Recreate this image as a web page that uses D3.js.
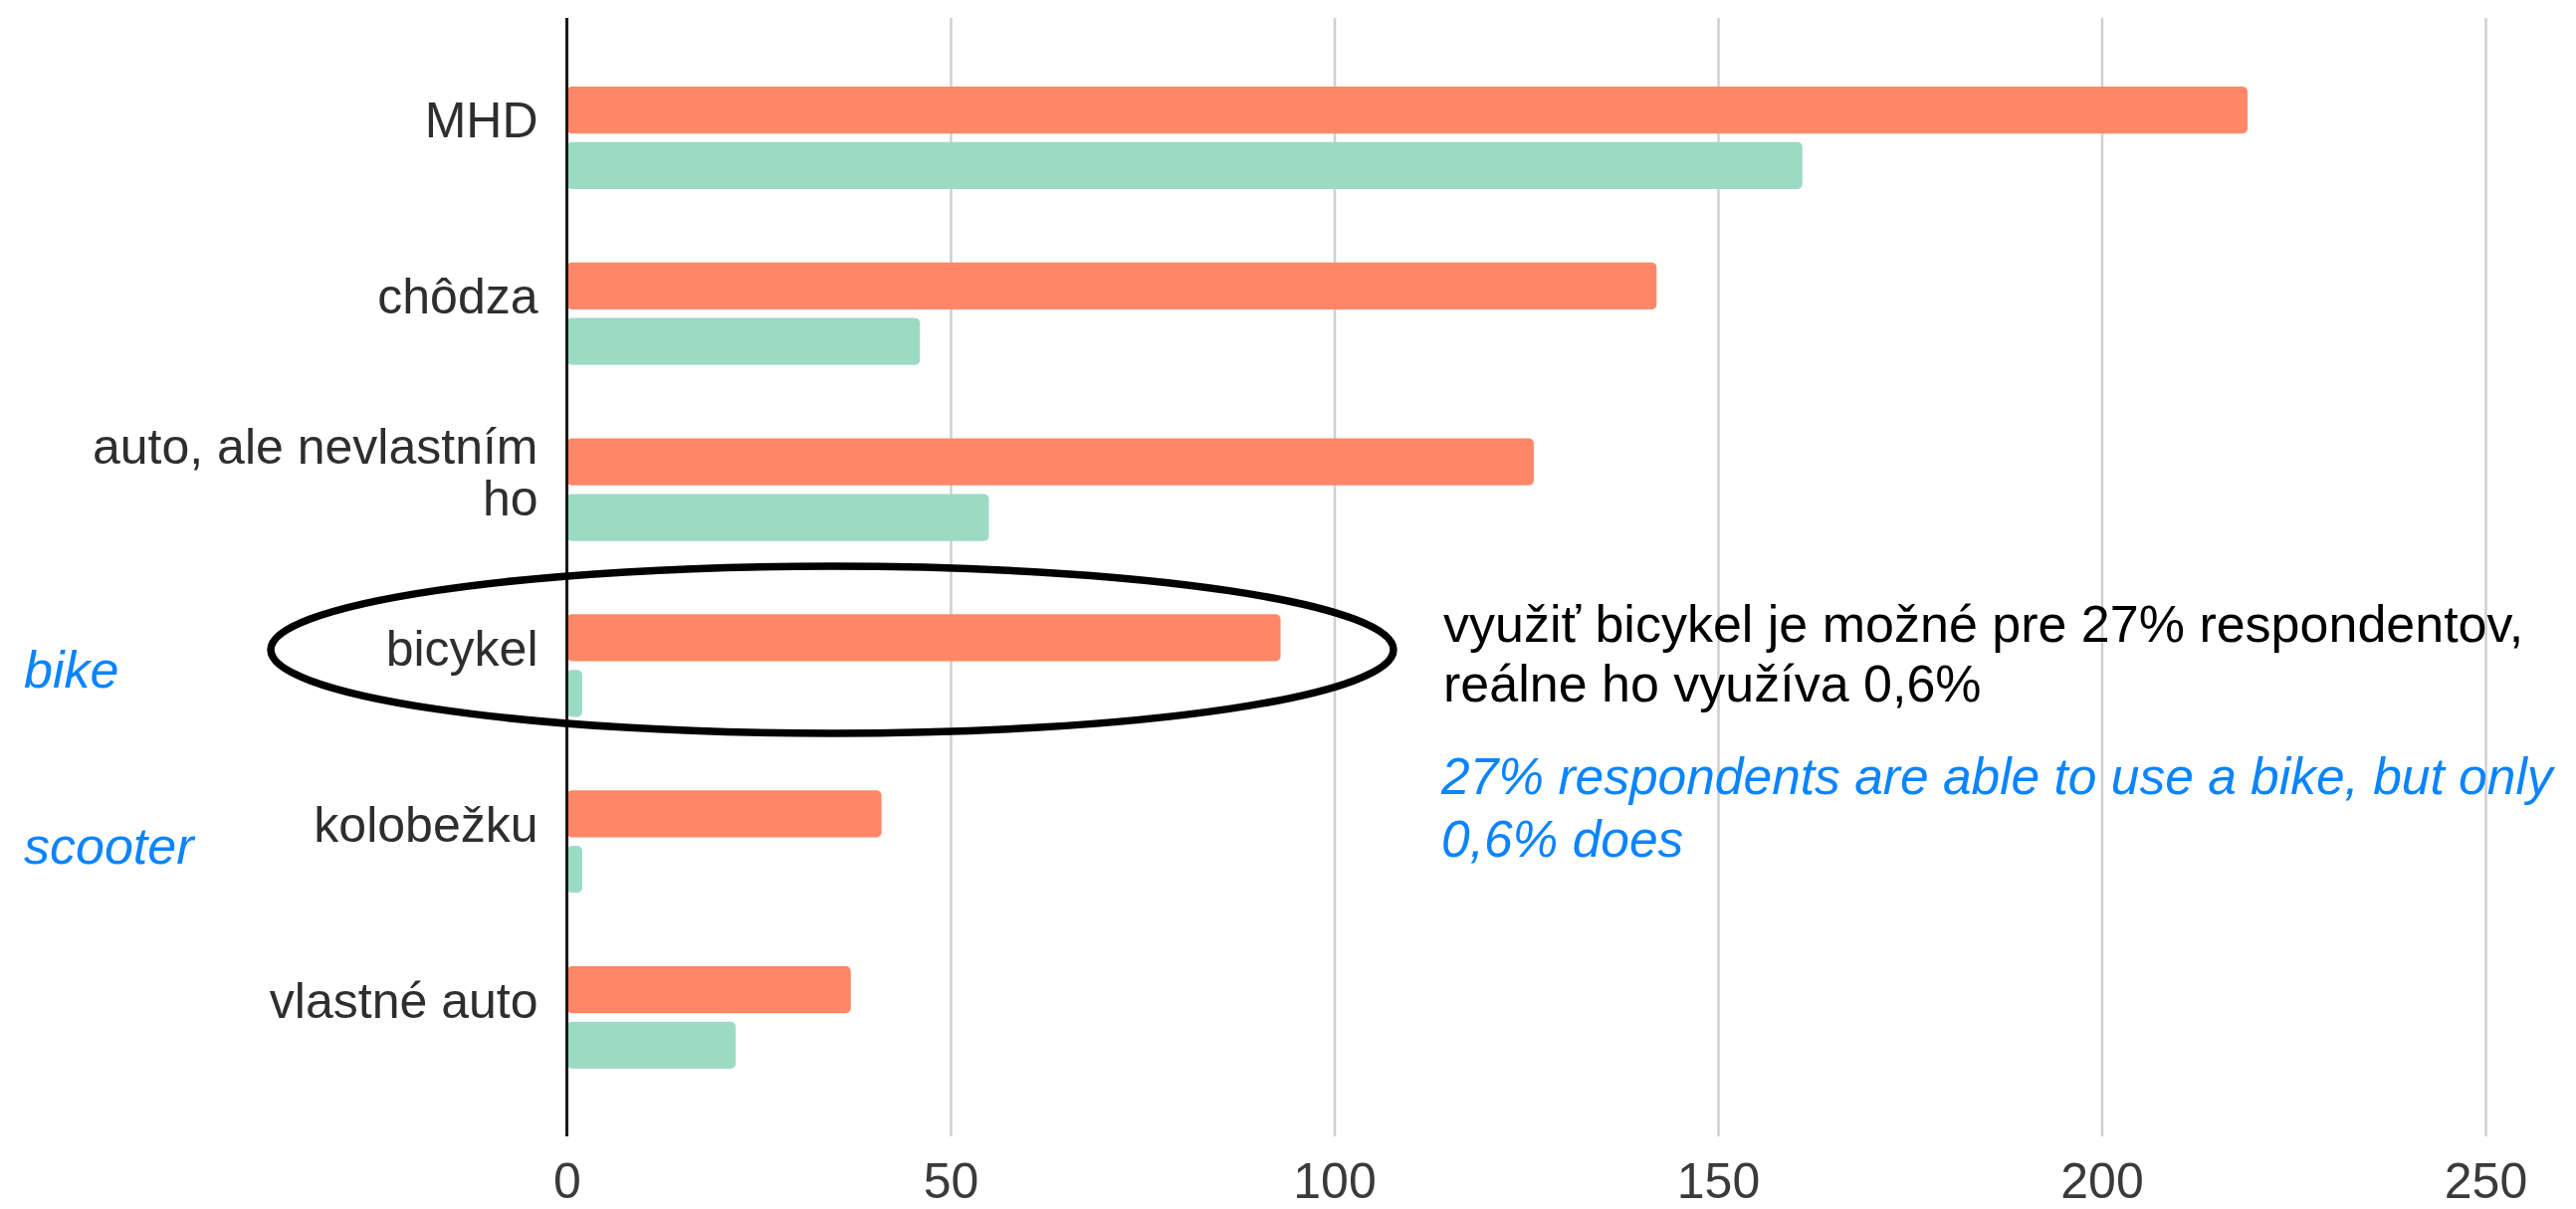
<!DOCTYPE html>
<html>
<head>
<meta charset="utf-8">
<script src="https://cdn.jsdelivr.net/npm/d3@7"></script>
<style>
  body { margin: 0; background: #fff; }
  svg { display: block; font-family: "Liberation Sans", Arial, sans-serif; }
</style>
</head>
<body>
<div id="chart"></div>
<script>
// Data
let categories = ["MHD", "chôdza", "auto, ale nevlastním ho", "bicykel", "kolobežku", "vlastné auto"];
let possibleValues = [219, 142, 126, 93, 41, 37];   // orange bars
let actualValues = [161, 46, 55, 2, 2, 22];         // teal bars
let xTicks = [0, 50, 100, 150, 200, 250];

// Annotation texts
let noteSk = ["využiť bicykel je možné pre 27% respondentov,", "reálne ho využíva 0,6%"];
let noteEn = ["27% respondents are able to use a bike, but only", "0,6% does"];
let sideLabels = [["bike", "bicykel"], ["scooter", "kolobežku"]];

// Size of the page and plot area
let w = 2588;
let h = 1215;
let plotLeft = 569.5;
let plotRight = 2497;
let plotTop = 18;
let plotBottom = 1142;

let orange = "#ff8767";
let teal = "#9bdbc4";
let blue = "#0a84ff";

let svg = d3.select("#chart").append("svg").attr("width", w).attr("height", h);
svg.append("rect").attr("width", w).attr("height", h).attr("fill", "#fff");

// Scales
let x = d3.scaleLinear().domain([0, 250]).range([plotLeft, plotRight]);
let y = d3.scaleBand().domain(categories).range([plotTop, plotBottom + 1]).paddingInner(0.417).paddingOuter(0.39);
let sub = d3.scaleBand().domain(["possible", "actual"]).range([0, y.bandwidth()]).paddingInner(0.155);

// x axis with gridlines
let xAxis = d3.axisBottom(x).tickValues(xTicks).tickSize(-(plotBottom - plotTop)).tickPadding(26);
let gx = svg.append("g")
    .attr("transform", "translate(0," + plotBottom + ")")
    .call(xAxis);
gx.select(".domain").remove();
gx.selectAll(".tick line").attr("stroke", "#cfcfcf").attr("stroke-width", 2.5);
gx.selectAll(".tick text")
    .attr("fill", "#3a3a3a")
    .style("font-size", "50px");

// Bars
let rows = categories.map((c, i) => ({ cat: c, possible: possibleValues[i], actual: actualValues[i] }));
let groups = svg.append("g").selectAll("g")
    .data(rows)
    .enter()
    .append("g")
    .attr("transform", d => "translate(0," + y(d.cat) + ")");

groups.selectAll("rect")
    .data(d => [{ key: "possible", v: d.possible }, { key: "actual", v: d.actual }])
    .enter()
    .append("rect")
    .attr("x", x(0))
    .attr("y", d => sub(d.key))
    .attr("width", d => x(d.v) - x(0))
    .attr("height", sub.bandwidth())
    .attr("rx", 5)
    .attr("fill", d => d.key === "possible" ? orange : teal);

// y axis (zero line + category labels)
let yAxis = d3.axisLeft(y).tickSize(0).tickSizeOuter(0).tickPadding(29);
let gy = svg.append("g")
    .attr("transform", "translate(" + plotLeft + ",0)")
    .call(yAxis);
gy.select(".domain").attr("stroke", "#1a1a1a").attr("stroke-width", 3)
    .attr("d", "M0," + plotTop + "V" + plotBottom);
gy.selectAll(".tick text")
    .attr("fill", "#2e2e2e")
    .style("font-size", "50px")
    .each(function () { wrap(d3.select(this), 470, 52); });

// Break long labels onto two lines, keep them centred on the band
function wrap(text, width, lineH) {
    let words = text.text().split(" ");
    let xPos = text.attr("x");
    text.text(null);
    let lines = [];
    let line = [];
    let tmp = text.append("tspan");
    words.forEach(word => {
        line.push(word);
        tmp.text(line.join(" "));
        if (tmp.node().getComputedTextLength() > width && line.length > 1) {
            line.pop();
            lines.push(line.join(" "));
            line = [word];
        }
    });
    lines.push(line.join(" "));
    tmp.remove();
    let shift = -(lines.length - 1) * lineH / 2;
    lines.forEach((l, i) => {
        text.append("tspan")
            .attr("x", xPos)
            .attr("dy", i === 0 ? shift + "px" : lineH + "px")
            .text(l);
    });
}

// Ellipse around "bicykel"
svg.append("ellipse")
    .attr("cx", 836)
    .attr("cy", 653)
    .attr("rx", 564)
    .attr("ry", 84)
    .attr("fill", "none")
    .attr("stroke", "#000")
    .attr("stroke-width", 7.5);

// Slovak note (black)
svg.append("g").selectAll("text")
    .data(noteSk)
    .enter()
    .append("text")
    .attr("x", 1450)
    .attr("y", (d, i) => 645 + i * 60)
    .attr("fill", "#000")
    .style("font-size", "52px")
    .text(d => d);

// English note (blue italic)
svg.append("g").selectAll("text")
    .data(noteEn)
    .enter()
    .append("text")
    .attr("x", 1448)
    .attr("y", (d, i) => 798 + i * 63)
    .attr("fill", blue)
    .style("font-size", "51.5px")
    .style("font-style", "italic")
    .text(d => d);

// English translations on the left, aligned to their category
svg.append("g").selectAll("text")
    .data(sideLabels)
    .enter()
    .append("text")
    .attr("x", 24)
    .attr("y", d => y(d[1]) + y.bandwidth() / 2 + 22)
    .attr("fill", blue)
    .style("font-size", "52px")
    .style("font-style", "italic")
    .text(d => d[0]);
</script>
</body>
</html>
